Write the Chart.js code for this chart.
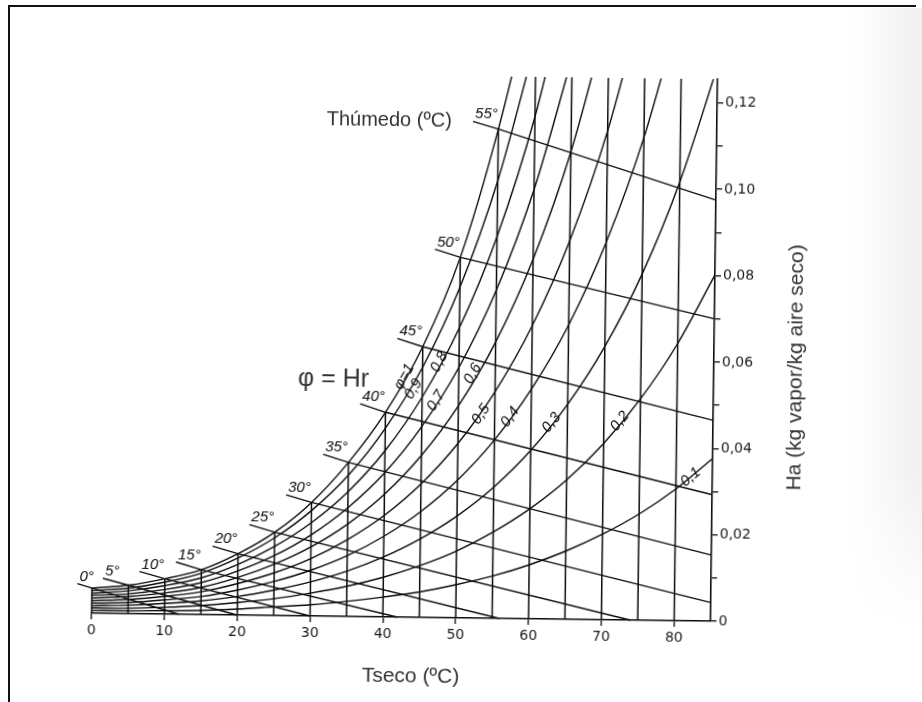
<!DOCTYPE html>
<html>
<head>
<meta charset="utf-8">
<script src="https://cdn.jsdelivr.net/npm/chart.js@4.4.1/dist/chart.umd.min.js"></script>
<style>
  html, body { margin: 0; padding: 0; background: #fff; }
  #wrap { position: relative; width: 922px; height: 702px; overflow: hidden; background: #fff; }
  #frame { position: absolute; left: 8px; top: 5px; width: 906px; height: 700px;
           border-top: 2px solid #111; border-left: 2px solid #111; }
  #scan { position: absolute; left: 850px; top: 8px; width: 72px; height: 620px;
          background: linear-gradient(to right, rgba(0,0,0,0), rgba(0,0,0,0.06));
          -webkit-mask-image: linear-gradient(to bottom, #000 75%, transparent);
          mask-image: linear-gradient(to bottom, #000 75%, transparent); }
  /* el original es un escaneo algo girado */
  canvas { position: absolute; left: 0; top: 0;
           transform-origin: 461px 351px; transform: translate(3px, 1px) rotate(0.74deg); }
</style>
</head>
<body>
<div id="wrap">
  <div id="scan"></div>
  <div id="frame"></div>
  <canvas id="myChart" width="922" height="702"></canvas>
</div>
<script>
// temperatura seca (ºC)
const tSeco = [0, 5, 10, 15, 20, 25, 30, 35, 40, 45, 50, 55, 60, 65, 70, 75, 80, 85];

// humedad absoluta (kg vapor/kg aire seco) para cada curva de humedad relativa
const hr100 = [0.0058, 0.0066, 0.0082, 0.0104, 0.0142, 0.0193, 0.0263, 0.0357, 0.0474, 0.0627, 0.0835, 0.1133, 0.150];
const hr90 = [0.0052, 0.0059, 0.0074, 0.0096, 0.0132, 0.0180, 0.0244, 0.0327, 0.0437, 0.0579, 0.0766, 0.1013, 0.1339];
const hr80 = [0.0046, 0.0053, 0.0066, 0.0085, 0.0117, 0.0160, 0.0216, 0.0289, 0.0385, 0.0510, 0.0672, 0.0884, 0.1163, 0.1533];
const hr70 = [0.0041, 0.0046, 0.0057, 0.0074, 0.0102, 0.0139, 0.0188, 0.0252, 0.0334, 0.0442, 0.0580, 0.0760, 0.0994, 0.1301];
const hr60 = [0.0035, 0.0040, 0.0049, 0.0063, 0.0087, 0.0119, 0.0160, 0.0214, 0.0284, 0.0375, 0.0491, 0.0640, 0.0833, 0.1083, 0.1410];
const hr50 = [0.0029, 0.0033, 0.0041, 0.0053, 0.0073, 0.0099, 0.0133, 0.0178, 0.0235, 0.0309, 0.0404, 0.0525, 0.0679, 0.0877, 0.1132, 0.1463];
const hr40 = [0.0023, 0.0026, 0.0033, 0.0042, 0.0058, 0.0079, 0.0106, 0.0141, 0.0187, 0.0245, 0.0319, 0.0413, 0.0532, 0.0682, 0.0874, 0.1118, 0.1432];
const hr30 = [0.0017, 0.0020, 0.0025, 0.0032, 0.0043, 0.0059, 0.0079, 0.0105, 0.0139, 0.0182, 0.0236, 0.0304, 0.0390, 0.0498, 0.0633, 0.0802, 0.1016, 0.1286];
const hr20 = [0.0012, 0.0013, 0.0016, 0.0021, 0.0029, 0.0039, 0.0053, 0.0070, 0.0092, 0.0120, 0.0155, 0.0200, 0.0255, 0.0323, 0.0408, 0.0513, 0.0642, 0.0802];
const hr10 = [0.0006, 0.0007, 0.0008, 0.0010, 0.0014, 0.0020, 0.0026, 0.0035, 0.0046, 0.0059, 0.0077, 0.0098, 0.0125, 0.0158, 0.0198, 0.0246, 0.0305, 0.0377];
const curvasHr = [hr100, hr90, hr80, hr70, hr60, hr50, hr40, hr30, hr20, hr10];

// rotulos de las curvas de humedad relativa y donde van
const phiTxt = ['φ=1', '0,9', '0,8', '0,7', '0,6', '0,5', '0,4', '0,3', '0,2', '0,1'];
const phiT = [42.5, 43.8, 47.3, 46.9, 51.9, 53.1, 57.1, 62.8, 72.2, 82.0];
const phiW = [0.0557, 0.0529, 0.0592, 0.0502, 0.0566, 0.0472, 0.0467, 0.0455, 0.0460, 0.0333];

// temperatura humeda (ºC): inicio del rotulo, punto de saturacion y final de cada recta
const tHumedo = [0, 5, 10, 15, 20, 25, 30, 35, 40, 45, 50, 55];
const thIniT = [-2, 1.5, 6.5, 11.5, 16.5, 21.5, 26.5, 31.5, 36.5, 41.5, 46.5, 51.5];
const thIniW = [0.0068, 0.0081, 0.0098, 0.0121, 0.0159, 0.0210, 0.0280, 0.0375, 0.0493, 0.0645, 0.0853, 0.1150];
const thFinT = [12, 20, 30, 42, 56, 74, 85, 85, 85, 85, 85, 85];
const thFinW = [0, 0, 0, 0, 0, 0, 0.0043, 0.0153, 0.0293, 0.0465, 0.0700, 0.0975];

const tMax = 85;
const wMax = 0.1255;
const tinta = '#0c0c0c';
const recorte = { left: 20, top: 0, right: 1, bottom: 1 };

const lineas = [];
curvasHr.forEach(c => {
  lineas.push({
    data: c.map((w, k) => ({ x: tSeco[k], y: w })),
    borderColor: tinta, borderWidth: 1.4, pointRadius: 0,
    cubicInterpolationMode: 'monotone', clip: recorte
  });
});
// verticales de temperatura seca, hasta la curva de saturacion
tSeco.forEach((t, k) => {
  if (t >= tMax) return;
  const arriba = k < hr100.length ? hr100[k] : wMax + 0.01;
  lineas.push({
    data: [{ x: t, y: 0 }, { x: t, y: arriba }],
    borderColor: tinta, borderWidth: 1.5, pointRadius: 0, clip: recorte
  });
});
// rectas de temperatura humeda
tHumedo.forEach((t, k) => {
  const sat = hr100[tSeco.indexOf(t)];
  lineas.push({
    data: [{ x: thIniT[k], y: thIniW[k] }, { x: t, y: sat }, { x: thFinT[k], y: thFinW[k] }],
    borderColor: tinta, borderWidth: 1.4, pointRadius: 0, tension: 0, clip: recorte
  });
});

const textos = {
  id: 'textos',
  afterDatasetsDraw(chart) {
    const { ctx, scales: { x, y } } = chart;
    ctx.save();
    ctx.fillStyle = tinta;

    // rotulos de temperatura humeda, encima de la prolongacion de cada recta
    ctx.font = 'italic 15px "Liberation Sans", Arial, sans-serif';
    ctx.textAlign = 'left';
    ctx.textBaseline = 'alphabetic';
    tHumedo.forEach((t, k) => {
      ctx.fillText(t + '°', x.getPixelForValue(thIniT[k]) + 2, y.getPixelForValue(thIniW[k]) - 3);
    });

    // rotulos de humedad relativa, girados con la curva
    ctx.textAlign = 'center';
    ctx.textBaseline = 'middle';
    phiTxt.forEach((s, i) => {
      const c = curvasHr[i];
      let k = 0;
      while (k < c.length - 2 && tSeco[k + 1] <= phiT[i]) k++;
      const a = Math.atan2(y.getPixelForValue(c[k + 1]) - y.getPixelForValue(c[k]),
                           x.getPixelForValue(tSeco[k + 1]) - x.getPixelForValue(tSeco[k]));
      ctx.save();
      ctx.translate(x.getPixelForValue(phiT[i]), y.getPixelForValue(phiW[i]));
      ctx.rotate(a);
      ctx.fillText(s, 0, 0);
      ctx.restore();
    });

    // titulos
    ctx.fillStyle = '#333';
    ctx.font = '20px "Liberation Sans", Arial, sans-serif';
    ctx.fillText('Thúmedo (ºC)', x.getPixelForValue(40), y.getPixelForValue(0.115));
    ctx.font = '25px "Liberation Sans", Arial, sans-serif';
    ctx.fillText('φ = Hr', x.getPixelForValue(32.8), y.getPixelForValue(0.0548));
    ctx.font = '21px "Liberation Sans", Arial, sans-serif';
    ctx.fillText('Tseco (ºC)', x.getPixelForValue(43.9), y.bottom + 59);
    ctx.save();
    ctx.translate(x.right + 82, y.getPixelForValue(0.059));
    ctx.rotate(-Math.PI / 2);
    ctx.fillText('Ha (kg vapor/kg aire seco)', 0, 0);
    ctx.restore();
    ctx.restore();
  }
};

const digitos = '"DejaVu Sans", "Liberation Sans", sans-serif';

new Chart('myChart', {
  type: 'line',
  data: { datasets: lineas },
  options: {
    responsive: false,
    animation: false,
    devicePixelRatio: 1,
    layout: { padding: { left: 92, top: 75, right: 0, bottom: 0 } },
    plugins: { legend: { display: false }, tooltip: { enabled: false } },
    scales: {
      x: {
        type: 'linear', min: 0, max: tMax,
        afterFit: s => { s.height = 85; },
        border: { color: tinta, width: 1.6 },
        grid: { drawOnChartArea: false, color: tinta, tickLength: 6, lineWidth: 1.3 },
        ticks: { stepSize: 10, includeBounds: false, color: '#1a1a1a', padding: 3, maxRotation: 0,
                 font: { size: 14, family: digitos } }
      },
      y: {
        type: 'linear', position: 'right', min: 0, max: wMax,
        afterFit: s => { s.width = 211; },
        border: { color: tinta, width: 1.6 },
        grid: { drawOnChartArea: false, color: tinta, tickLength: 6, lineWidth: 1.3 },
        ticks: {
          stepSize: 0.01, includeBounds: false, color: '#1a1a1a', padding: 2,
          font: { size: 14, family: digitos },
          callback: v => {
            const c = Math.round(v * 100);
            if (c % 2 !== 0) return '';
            return c === 0 ? '0' : (c / 100).toFixed(2).replace('.', ',');
          }
        }
      }
    }
  },
  plugins: [textos]
});
</script>
</body>
</html>
